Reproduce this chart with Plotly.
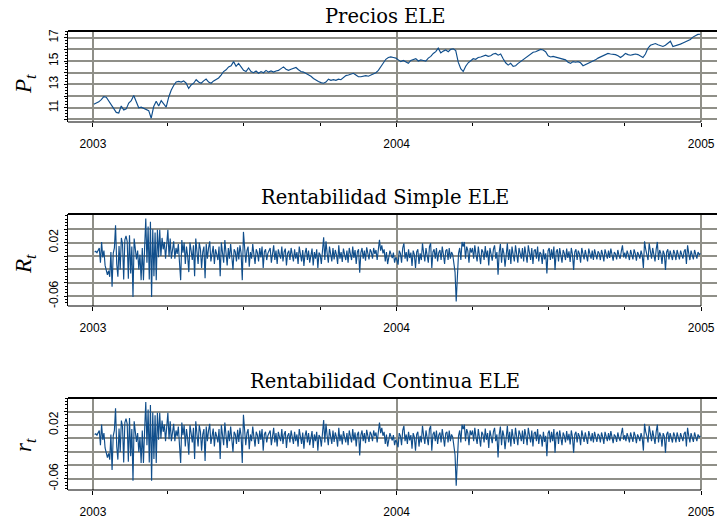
import numpy as np
import pandas as pd
import plotly.graph_objects as go

# ---------------- data ----------------
precios = [
    11.3, 11.4, 11.5, 11.7, 11.95, 11.9, 11.6, 11.3, 10.9, 10.6, 10.55, 11.15, 10.8, 10.9, 11.4, 11.6,
    12.05, 11.5, 11.0, 11.05, 10.95, 10.85, 10.75, 10.1, 11.1, 11.55, 11.15, 11.6, 11.3, 11.05, 11.9, 12.5,
    12.9, 13.2, 13.25, 13.2, 13.3, 13.1, 12.65, 12.95, 13.1, 13.4, 13.2, 13.1, 13.3, 13.45, 13.2, 13.1,
    13.3, 13.45, 13.55, 13.8, 14.1, 14.25, 14.5, 14.6, 14.95, 14.55, 14.8, 14.5, 14.2, 14.1, 14.4, 14.1,
    14.0, 14.15, 13.95, 14.1, 14.0, 14.2, 14.05, 14.15, 14.05, 14.15, 14.2, 14.35, 14.5, 14.3, 14.2, 14.3,
    14.4, 14.45, 14.25, 14.1, 14.05, 13.95, 13.85, 13.7, 13.5, 13.35, 13.25, 13.15, 13.1, 13.2, 13.45, 13.35,
    13.4, 13.35, 13.45, 13.4, 13.55, 13.75, 13.8, 13.85, 13.95, 13.8, 13.65, 13.65, 13.7, 13.75, 13.7, 13.8,
    13.95, 14.0, 14.2, 14.55, 14.8, 15.15, 15.3, 15.35, 15.3, 15.25, 15.1, 14.95, 15.05, 14.95, 14.8, 15.05,
    15.15, 15.2, 15.0, 15.1, 15.05, 15.0, 15.25, 15.4, 15.65, 15.8, 16.1, 15.7, 15.85, 15.95, 15.8, 16.0,
    16.05, 15.9, 14.9, 14.35, 14.1, 14.55, 14.85, 15.0, 15.2, 15.15, 15.3, 15.35, 15.45, 15.5, 15.4, 15.45,
    15.6, 15.65, 15.5, 15.6, 15.2, 14.85, 14.65, 14.8, 14.55, 14.6, 14.8, 14.95, 15.15, 15.3, 15.4, 15.6,
    15.75, 15.8, 15.9, 16.0, 15.95, 15.8, 15.45, 15.35, 15.4, 15.35, 15.3, 15.25, 15.2, 15.1, 14.9, 14.8,
    14.95, 14.9, 14.95, 14.85, 14.6, 14.7, 14.75, 14.85, 14.95, 15.1, 15.25, 15.35, 15.5, 15.6, 15.65, 15.6,
    15.6, 15.55, 15.45, 15.3, 15.45, 15.65, 15.55, 15.5, 15.55, 15.6, 15.55, 15.45, 15.3, 15.6, 16.1, 16.35,
    16.45, 16.5, 16.4, 16.3, 16.25, 16.35, 16.55, 16.7, 16.25, 16.3, 16.4, 16.45, 16.55, 16.65, 16.7, 16.85,
    17.05, 17.2, 17.28, 17.3,
]

rent_2003 = [
    .006, .007, .005, .01, .012, -.01, .021, -.002, .008, -.014, -.02, -.028, -.022, -.031, .006, -.046, .004, .012, .046, -.012, -.031, .015,
    -.02, .027, .018, -.035, .024, .03, .022, -.034, .031, -.026, .014, -.061, .026, .004, -.005, .008, -.02, .002, -.036, .012,
    -.036, .012, .056, -.01, .044, -.035, .051, -.061, .04, -.03, .035, -.036, .039, -.002, .039, .0, .027, .01, .021, -.004, .013,
    .039, -.001, .026, -.004, .013, .022, -.004, .012, .003, .018, -.01, -.036, .024, .005, .02, -.012, .014, .0, -.024, .02, .008, -.006,
    .016, -.03, .026, .004, -.012, .02, .01, -.018, .006, .014, -.033, .018, -.004, .012, .022, -.008, .005, .015, -.012, .01, .003, -.006,
    .014, -.03, .02, .008, -.01, .024, .006, -.014, .012, -.004, .018, .002, -.02, .01, .006, -.008, .013, -.005, .016, .004, -.036,
    .036, .004, -.01, .008, .014, -.016, .006, -.004, .018, .002, -.012, .01, .005, -.008, .012, -.002, .014, -.018, .006, .01, -.006, .004, .009,
    .012, -.01, .005, .016, -.006, .008, -.012, .01, .002, -.004, .014, -.008, .006, .011, -.014, .004, .008, -.006, .012, .0, -.008,
    .01, -.004, .006, -.012, .014, .002, -.008, .009, -.015, .004, .012, -.006, .008, -.01, .003, .011, -.014, .006, -.004, .01, -.018, .005,
    .002, -.012, .008, .028, -.006, .022, .004, -.01, .014, .003, -.008, .012, -.005, .009, .002, -.012, .016, -.004, .006, -.009, .011, .002, -.006,
    .008, -.01, .012, .004, -.006, .014, -.003, .009, -.012, .006, .01, -.025, .005, .012, -.004, .008, -.007, .013, .002, -.005,
    .01, .006, -.004, .012, .003, .009, -.006, .014, .024, .008, .016, .004, .01, -.008, .006, -.012, -.004, .008, .002, -.003, .005, -.01, -.002,
]

rent_2004 = [
    -.006, -.013, .008, .004, -.01, .012, .019, -.004, .006, -.008, .01, -.003, .005, -.015, .008, .002, -.018, .006, .01, -.012, .004, -.006,
    .019, .004, -.008, .012, .002, -.01, .014, .019, -.018, .006, .01, -.004, .012, -.008, .005, .009, -.006, .014, .002, -.012,
    .008, .01, -.006, .012, -.004, .006, .002, -.01, -.024, -.068, -.021, .004, .012, -.006, .021, .014, .021, -.004, .014, .008, -.01, .012, .005,
    .012, -.004, .016, .002, -.008, .014, .004, -.012, .01, .006, -.006, .015, -.002, .008, -.014, .012, .003, -.007, .01, .016, -.004, .006,
    -.028, .006, .018, -.01, .012, .004, -.016, .008, .019, -.006, .01, -.012, .014, .002, -.008, .016, .004, -.01, .012, .006, -.004,
    .012, -.008, .014, .004, -.01, .016, .002, -.006, .012, -.012, .008, .01, -.004, .014, -.008, .006, .003, -.012, .01, -.005, .004, -.026,
    .008, .012, -.006, .01, -.004, .014, -.021, .006, .01, -.008, .012, .002, -.01, .009, .004, -.006, .011, -.003, .007, -.009, .012, .002,
    -.021, .006, .01, -.006, .008, .003, -.01, .012, .004, -.005, .009, .002, -.008, .011, .005, -.004, .008, -.006, .01, .003, -.005, .007,
    .004, -.006, .009, .002, -.008, .01, .004, -.004, .008, -.003, .011, .002, -.007, .006, .003, -.005, .009, .001, -.004, .007, .016, -.002,
    .005, -.004, .008, .002, -.006, .009, .003, -.005, .01, .004, -.007, .006, .002, -.004, .008, .001, -.018, .022, .01, .004, -.006,
    .019, .008, -.004, .012, .002, -.008, .01, .021, -.006, .009, .004, -.012, .008, .003, -.021, .006, .01, -.005, .008, .002, -.006, .009,
    .004, -.006, .009, .002, -.005, .008, .003, -.004, .007, .01, -.012, .016, .004, -.006, .008, .002, -.005, .009, .003, -.004, .006, .002, .004,
]

rent_simple = rent_2003 + rent_2004
rent_continua = list(np.log1p(np.array(rent_simple)))

fechas_precio = pd.date_range("2003-01-02", "2004-12-31", periods=len(precios))
fechas_rent = pd.date_range("2003-01-03", "2004-12-31", periods=len(rent_simple))

titulos = ["Precios ELE", "Rentabilidad Simple ELE", "Rentabilidad Continua ELE"]
ytitulos = ["<i>P</i><sub><i>t</i></sub>", "<i>R</i><sub><i>t</i></sub>", "<i>r</i><sub><i>t</i></sub>"]
year_ticks = ["2003-01-01", "2004-01-01", "2005-01-01"]
year_labels = ["2003", "2004", "2005"]

# ---------------- layout helpers ----------------
W, H = 717, 518
L, R = 68, 0
PW = W - L - R


def xp(px):
    return (px - L) / PW


def yp(py):
    return 1 - py / H


panels = [  # top px, bottom px of each plot box
    (31, 122),
    (214, 306),
    (398, 490),
]
yranges = [[9.776, 17.574], [-0.0746, 0.0627], [-0.0768, 0.0603]]
grid_vals = [list(range(10, 18)), [-0.06, -0.04, -0.02, 0, 0.02, 0.04], [-0.06, -0.04, -0.02, 0, 0.02, 0.04]]
grid_text = [[" ", "11", " ", "13", " ", "15", " ", "17"],
             ["-0.06", " ", " ", " ", "0.02", " "],
             ["-0.06", " ", " ", " ", "0.02", " "]]
minor_dt = [0.25, 0.005, 0.005]

LINE = "#104E8B"
GRID = "#8f8f88"
SANS = "Liberation Sans, Arial, sans-serif"
SERIF = "DejaVu Serif, serif"

fig = go.Figure()
series = [(fechas_precio, precios), (fechas_rent, rent_simple), (fechas_rent, rent_continua)]
for i, (xs, ys) in enumerate(series):
    n = "" if i == 0 else str(i + 1)
    fig.add_trace(go.Scatter(x=xs, y=ys, mode="lines", line=dict(color=LINE, width=1.15),
                             xaxis="x" + n, yaxis="y" + n, showlegend=False, hoverinfo="skip"))

layout = dict(
    width=W, height=H, margin=dict(l=L, r=R, t=0, b=0, autoexpand=False),
    paper_bgcolor="white", plot_bgcolor="white", showlegend=False,
    annotations=[], shapes=[],
)
for i, (top, bot) in enumerate(panels):
    n = "" if i == 0 else str(i + 1)
    layout["xaxis" + n] = dict(
        domain=[0, 1], anchor="y" + n, type="date",
        range=["2002-12-02", "2005-01-20"],
        tickvals=year_ticks, ticktext=year_labels,
        showgrid=True, gridcolor=GRID, gridwidth=1.6,
        ticks="outside", ticklen=4, tickcolor="black", tickwidth=1,
        ticklabelstandoff=7, automargin=False, ticklabeloverflow="allow",
        tickfont=dict(family=SANS, size=12, color="black"),
        minor=dict(ticks="outside", ticklen=3, tickcolor="black", dtick="M3",
                   tick0="2003-01-01", showgrid=False),
        showline=False, zeroline=False, fixedrange=True,
    )
    layout["yaxis" + n] = dict(
        domain=[yp(bot), yp(top)], anchor="x" + n,
        range=yranges[i], tickvals=grid_vals[i], ticktext=grid_text[i],
        tickangle=-90, showgrid=True, gridcolor=GRID, gridwidth=1.6,
        ticks="outside", ticklen=3, tickcolor="black",
        ticklabelstandoff=1, automargin=False,
        tickfont=dict(family=SANS, size=12, color="black"),
        minor=dict(ticks="outside", ticklen=2, tickcolor="black", dtick=minor_dt[i],
                   tick0=0, showgrid=False),
        showline=True, linecolor="black", linewidth=1.2,
        zeroline=False, fixedrange=True,
    )
    # top border (full width) and bottom axis line (up to 2005)
    layout["shapes"].append(dict(type="line", xref="x" + n + " domain", yref="y" + n + " domain",
                                 x0=0, x1=1, y0=1, y1=1, line=dict(color="black", width=2)))
    layout["shapes"].append(dict(type="line", xref="x" + n + " domain", yref="y" + n + " domain",
                                 x0=0, x1=xp(701), y0=0, y1=0, line=dict(color="black", width=1.2)))

title_y = [16, 197.5, 381.5]
ytitle_y = [84, 264, 445]
for i in range(3):
    layout["annotations"].append(dict(
        text=titulos[i], xref="paper", yref="paper", x=xp(385), y=yp(title_y[i]),
        xanchor="center", yanchor="middle", showarrow=False,
        font=dict(family=SERIF, size=19.5, color="black")))
    layout["annotations"].append(dict(
        text=ytitulos[i], xref="paper", yref="paper", x=xp(25), y=yp(ytitle_y[i]),
        xanchor="center", yanchor="middle", showarrow=False, textangle=-90,
        font=dict(family="Liberation Serif, serif", size=23, color="black")))

fig.update_layout(**layout)
fig.write_html("out.html", config={"displayModeBar": False},
               post_script="document.body.style.margin='0';document.body.style.overflow='hidden';")
